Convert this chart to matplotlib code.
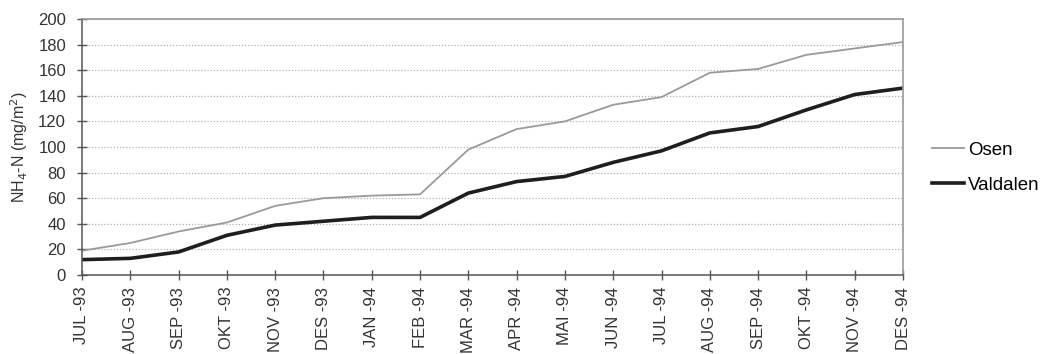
import matplotlib
matplotlib.use("Agg")
import matplotlib.pyplot as plt
import numpy as np

# ------------------------------------------------------------------
# Data
# ------------------------------------------------------------------
months = ['JUL -93', 'AUG -93', 'SEP -93', 'OKT -93', 'NOV -93', 'DES -93',
          'JAN -94', 'FEB -94', 'MAR -94', 'APR -94', 'MAI -94', 'JUN -94',
          'JUL -94', 'AUG -94', 'SEP -94', 'OKT -94', 'NOV -94', 'DES -94']
osen = [19, 25, 34, 41, 54, 60, 62, 63, 98, 114, 120, 133, 139, 158, 161, 172, 177, 182]
valdalen = [12, 13, 18, 31, 39, 42, 45, 45, 64, 73, 77, 88, 97, 111, 116, 129, 141, 146]

plt.rcParams['font.family'] = ['Liberation Sans', 'DejaVu Sans']

fig = plt.figure(figsize=(10.48, 3.54), dpi=100)
ax = fig.add_axes([82 / 1048, 1 - 275 / 354, (903 - 82) / 1048, (275 - 19) / 354])

x = np.arange(len(months))
ax.plot(x, osen, color='#9a9a9a', linewidth=1.3, label='Osen')
ax.plot(x, valdalen, color='#1e1e1e', linewidth=2.6, label='Valdalen')

ax.set_xlim(0, len(months) - 1)
ax.set_ylim(0, 200)
ax.set_yticks(np.arange(0, 201, 20))
ax.set_xticks(x)
ax.set_xticklabels(months, rotation=90, fontsize=12, color='#333333')
ax.tick_params(axis='y', labelsize=12, labelcolor='#333333', pad=8)
ax.tick_params(axis='x', pad=5)
ax.tick_params(axis='both', direction='inout', length=7, width=1, color='#555555')

# dotted horizontal grid
ax.grid(axis='y', linestyle=(0, (1, 1.5)), color='#b0b0b0', linewidth=0.9)
ax.set_axisbelow(True)

for side in ['left', 'bottom']:
    ax.spines[side].set_color('#555555')
    ax.spines[side].set_linewidth(1.1)
for side in ['top', 'right']:
    ax.spines[side].set_color('#9a9a9a')
    ax.spines[side].set_linewidth(1.2)

ax.set_ylabel('NH$_4$-N (mg/m$^2$)', fontsize=11.5, color='#333333', labelpad=6)

ax.legend(loc='center left', bbox_to_anchor=(1.015, 0.42), frameon=False,
          fontsize=13.5, handlelength=1.7, handletextpad=0.2, labelspacing=0.95)

fig.savefig('out.png', dpi=100)
